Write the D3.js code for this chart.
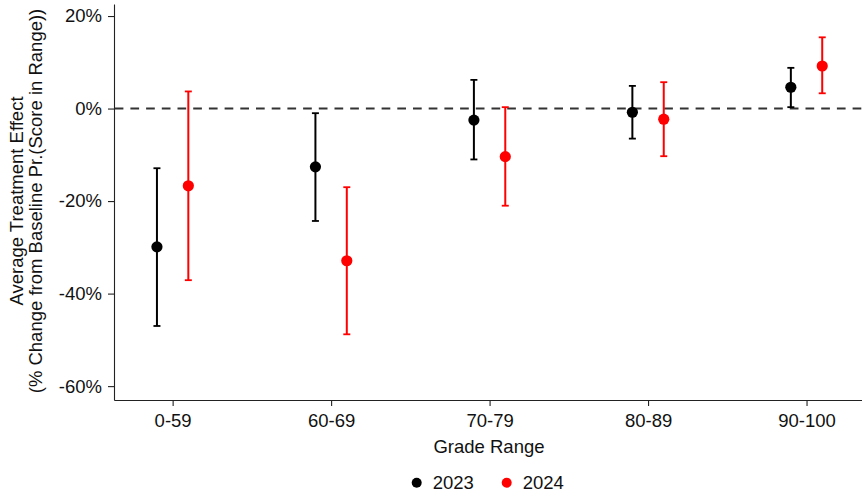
<!DOCTYPE html>
<html>
<head>
<meta charset="utf-8">
<script src="https://cdn.jsdelivr.net/npm/d3@7"></script>
<style>
  body { margin: 0; background: #fff; }
  svg { display: block; font-family: "Liberation Sans", Arial, sans-serif; }
</style>
</head>
<body>
<svg id="chart" width="862" height="493"></svg>
<script>
// Grade ranges and estimated treatment effects (% change), with 95% CI bounds
const categories = ["0-59", "60-69", "70-79", "80-89", "90-100"];
const years = ["2023", "2024"];
const colors = ["#000000", "#ff0000"];

const est2023   = [-29.9, -12.6, -2.5, -0.8, 4.6];
const lower2023 = [-47.0, -24.3, -11.0, -6.5, 0.3];
const upper2023 = [-12.9, -1.0, 6.2, 4.9, 8.8];

const est2024   = [-16.7, -32.9, -10.4, -2.3, 9.2];
const lower2024 = [-37.1, -48.8, -21.0, -10.3, 3.3];
const upper2024 = [3.7, -17.0, 0.3, 5.7, 15.4];

const yTicks = [20, 0, -20, -40, -60];

const FONT = "18.5px";
const svg = d3.select("#chart");
const plot = { left: 114, right: 862, top: 4, bottom: 400 };

const x = d3.scaleLinear().domain([0.63, 5.35]).range([plot.left, plot.right]);
const y = d3.scaleLinear().domain([-63, 22.6]).range([plot.bottom, plot.top]);
const dodge = 0.099; // horizontal offset of each year from the category centre

const series = [
  { year: years[0], color: colors[0], est: est2023, lo: lower2023, hi: upper2023, shift: -dodge },
  { year: years[1], color: colors[1], est: est2024, lo: lower2024, hi: upper2024, shift: dodge }
];

// axes
const yAxis = d3.axisLeft(y).tickValues(yTicks).tickFormat(d => d + "%")
  .tickSize(6).tickSizeOuter(0).tickPadding(6);
const gy = svg.append("g").attr("transform", `translate(${plot.left},0)`).call(yAxis);
const xAxis = d3.axisBottom(x).tickValues(d3.range(1, 6)).tickFormat(i => categories[i - 1])
  .tickSize(6).tickSizeOuter(0).tickPadding(8);
const gx = svg.append("g").attr("transform", `translate(0,${plot.bottom})`).call(xAxis);

[gx, gy].forEach(g => {
  g.select(".domain").attr("stroke", "#222").attr("stroke-width", 1.1);
  g.selectAll(".tick line").attr("stroke", "#222").attr("stroke-width", 1.1);
  g.selectAll(".tick text").attr("fill", "#111").style("font-size", FONT)
    .style("font-family", "'Liberation Sans', Arial, sans-serif");
});

// zero reference line
svg.append("line")
  .attr("x1", plot.left + 0.7).attr("x2", plot.right)
  .attr("y1", y(0)).attr("y2", y(0))
  .attr("stroke", "#333").attr("stroke-width", 2.1)
  .attr("stroke-dasharray", "8.7,7");

// error bars and point estimates
series.forEach(s => {
  const g = svg.append("g");
  categories.forEach((c, i) => {
    const cx = x(i + 1 + s.shift);
    g.append("line").attr("x1", cx).attr("x2", cx)
      .attr("y1", y(s.lo[i])).attr("y2", y(s.hi[i]))
      .attr("stroke", s.color).attr("stroke-width", 2);
    [s.lo[i], s.hi[i]].forEach(v => {
      g.append("line").attr("x1", cx - 3.5).attr("x2", cx + 3.5)
        .attr("y1", y(v)).attr("y2", y(v))
        .attr("stroke", s.color).attr("stroke-width", 1.8);
    });
    g.append("circle").attr("cx", cx).attr("cy", y(s.est[i])).attr("r", 5.6)
      .attr("fill", s.color);
  });
});

// axis titles
svg.append("text").attr("x", 489).attr("y", 452.7).attr("text-anchor", "middle")
  .style("font-size", FONT).attr("fill", "#111").text("Grade Range");

const yt = svg.append("text").attr("transform", "translate(0,201) rotate(-90)")
  .attr("text-anchor", "middle").style("font-size", FONT).attr("fill", "#111");
yt.append("tspan").attr("x", 0).attr("y", 23).text("Average Treatment Effect");
yt.append("tspan").attr("x", 0).attr("y", 41.5).text("(% Change from Baseline Pr.(Score in Range))");

// legend
const legend = svg.append("g");
const legendX = [416.7, 506.7];
series.forEach((s, i) => {
  legend.append("circle").attr("cx", legendX[i]).attr("cy", 482.7).attr("r", 5).attr("fill", s.color);
  legend.append("text").attr("x", legendX[i] + 16).attr("y", 489.3)
    .style("font-size", FONT).attr("fill", "#111").text(s.year);
});
</script>
</body>
</html>
